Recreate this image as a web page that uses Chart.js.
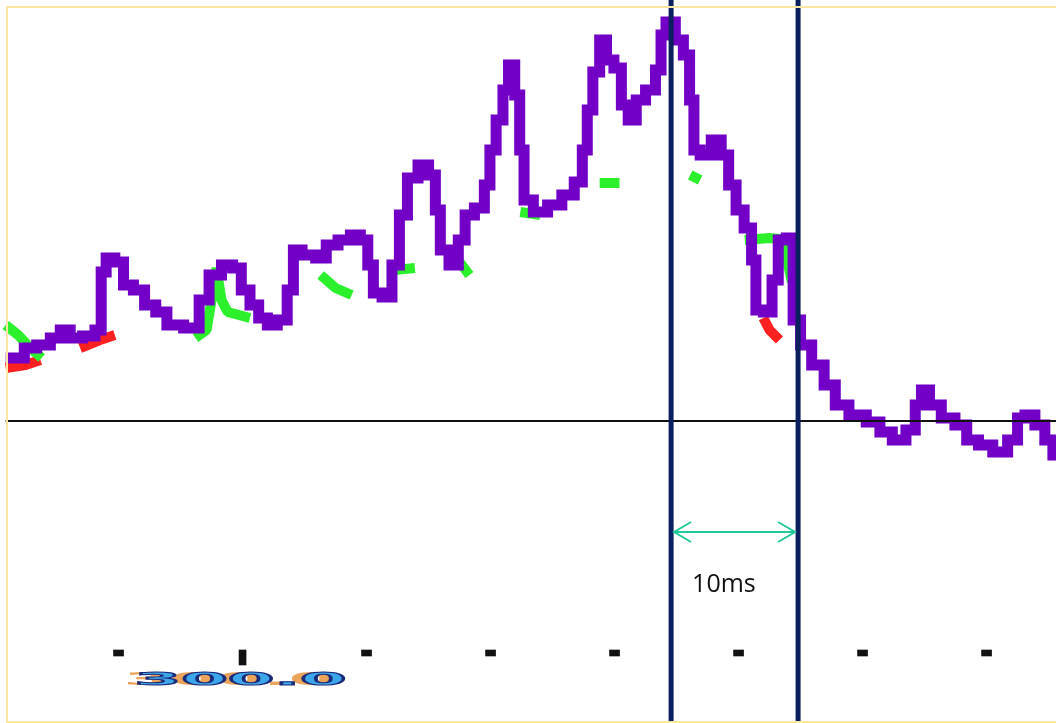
<!DOCTYPE html>
<html>
<head>
<meta charset="utf-8">
<title>Trace</title>
<script src="https://cdn.jsdelivr.net/npm/chart.js@4.4.1/dist/chart.umd.min.js"></script>
<style>
  html, body { margin: 0; padding: 0; background: #fff; overflow: hidden; }
  #wrap { position: absolute; left: 0; top: 0; width: 1056px; height: 723px; }
  #frame {
    position: absolute; left: 6px; top: 6px; width: 1060px; height: 713px;
    border: 2px solid #fce6a4; border-right: none; pointer-events: none;
  }
</style>
</head>
<body>
<div id="wrap"><canvas id="traceChart"></canvas></div>
<div id="frame"></div>
<script>
// main trace (purple): time in ms, amplitude
const traceTime = [280.9, 282.1, 282.7, 284.1, 284.9, 285.7, 286.5, 287.7, 288.5, 288.7, 289.3, 290.1, 290.7, 291.7, 292.5, 293.5, 294.3, 296.2, 296.8, 297.8,
    298.8, 299.6, 300.2, 301.0, 301.6, 302.4, 303.2, 304.0, 304.2, 305.4, 306.4, 307.1, 308.3, 309.1, 309.9, 310.3, 310.8, 311.7, 312.4, 312.9,
    313.7, 314.6, 315.4, 315.7, 316.2, 317.1, 317.7, 318.2, 319.2, 319.8, 320.1, 320.8, 321.2, 321.7, 322.2, 322.5, 322.9, 324.0, 325.2, 326.3,
    327.2, 327.6, 328.0, 328.5, 329.1, 329.6, 330.3, 330.8, 331.4, 332.1, 332.9, 333.7, 333.8, 334.5, 335.3, 335.8, 336.3, 336.5, 337.3, 338.3,
    338.9, 339.5, 340.1, 340.8, 341.3, 341.5, 342.5, 342.9, 343.5, 344.2, 344.6, 345.4, 346.4, 347.4, 348.2, 349.6, 351.0, 351.8, 353.0, 354.0,
    354.5, 355.0, 355.8, 356.9, 358.0, 358.8, 359.9, 361.1, 362.3, 362.7, 363.5, 364.3, 365.1, 365.6];
const traceValue = [6.3, 6.3, 7.3, 7.6, 8.3, 9.1, 8.3, 8.5, 9.1, 14.9, 16.3, 15.9, 13.6, 13.1, 11.6, 10.9, 9.6, 9.3, 12.1, 14.6,
    15.6, 15.3, 13.1, 11.6, 10.3, 9.6, 10.1, 13.1, 17.1, 16.6, 16.3, 17.6, 18.1, 18.6, 18.1, 15.6, 12.8, 12.4, 15.6, 20.6,
    24.3, 25.6, 24.6, 21.1, 17.1, 15.6, 18.1, 20.6, 21.3, 23.6, 27.1, 30.1, 33.1, 35.6, 32.6, 27.1, 22.1, 20.9, 21.6, 22.6,
    23.9, 27.1, 31.1, 34.9, 38.1, 36.1, 35.3, 31.6, 30.1, 32.1, 33.1, 35.1, 38.6, 39.9, 38.1, 36.6, 32.1, 27.1, 26.6, 28.1,
    26.6, 23.6, 21.1, 19.3, 16.1, 11.1, 10.9, 14.1, 18.1, 18.3, 10.1, 7.6, 5.6, 3.6, 1.6, 0.6, -0.1, -1.1, -1.9, -0.9,
    1.6, 3.1, 1.6, 0.3, -0.4, -1.9, -2.4, -3.1, -1.9, 0.3, 0.6, -0.4, -1.9, -3.4];

// second trace (green), only the visible pieces; null = hidden
const greenTime = [280.9, 281.9, 282.9, 283.8, null, 296.2, 297.1, 297.5, 297.9, 298.3, 298.8, 300.6, null, 306.3, 307.5, 308.8, null,
    312.3, 313.9, null, 317.5, 318.3, null, 322.4, 324.0, null, 328.8, 330.4, null, 336.1, 336.9, null, 340.5, 342.5, 343.9, 344.0, 344.3];
const greenValue = [9.6, 8.6, 7.3, 6.3, null, 8.3, 9.1, 12.1, 15.3, 12.1, 10.9, 10.3, null, 14.6, 13.3, 12.6, null,
    15.1, 15.3, null, 15.9, 14.6, null, 20.9, 20.6, null, 23.8, 23.8, null, 24.6, 24.1, null, 18.1, 18.3, 18.1, 15.6, 13.9];

// third trace (red), visible pieces
const redTime = [280.9, 282.5, 283.7, null, 286.9, 288.5, 289.7, null, 342.0, 342.5, 343.3];
const redValue = [5.3, 5.6, 6.1, null, 7.3, 8.1, 8.6, null, 10.3, 9.1, 8.1];

// time axis
const tickTimes = [290, 310, 320, 330, 340, 350, 360];
const majorTickTime = 300;
const majorTickLabel = "300.0";
const timeRange = [280.44, 365.6];
const valueRange = [-30.2, 42.1];

// cursors and span note
const cursorTimes = [334.56, 344.8];
const spanLabel = "10ms";

function toPoints(xs, ys) {
    return xs.map((t, i) => (t === null ? { x: null, y: null } : { x: t, y: ys[i] }));
}

const notesPlugin = {
    id: "spanNotes",
    afterDatasetsDraw(chart) {
        const { ctx, scales: { x, y } } = chart;
        const left = x.getPixelForValue(cursorTimes[0]) + 3;
        const right = x.getPixelForValue(cursorTimes[1]) - 3;
        const ay = y.getPixelForValue(-11.1);

        ctx.save();
        ctx.strokeStyle = "#22c99a";
        ctx.lineWidth = 2;
        ctx.beginPath();
        ctx.moveTo(left, ay);
        ctx.lineTo(right, ay);
        ctx.moveTo(left + 17, ay - 10);
        ctx.lineTo(left, ay);
        ctx.lineTo(left + 17, ay + 10);
        ctx.moveTo(right - 17, ay - 10);
        ctx.lineTo(right, ay);
        ctx.lineTo(right - 17, ay + 10);
        ctx.stroke();

        ctx.fillStyle = "#111";
        ctx.font = '25px "Open Sans"';
        ctx.textBaseline = "alphabetic";
        ctx.fillText(spanLabel, left + 18, y.getPixelForValue(-17.1));

        // stretched axis label under the major tick
        ctx.font = 'bold 18px "DejaVu Sans"';
        const w = ctx.measureText(majorTickLabel).width;
        ctx.translate(x.getPixelForValue(majorTickTime) - 2, y.getPixelForValue(-26.4));
        ctx.scale(212 / w, 1);
        ctx.fillStyle = "#e9a35a";
        ctx.fillText(majorTickLabel, -w / 2 - 3, 0);
        ctx.fillStyle = "#3ba6ea";
        ctx.fillText(majorTickLabel, -w / 2, 0);
        ctx.strokeStyle = "#1c2a7a";
        ctx.lineWidth = 1;
        ctx.strokeText(majorTickLabel, -w / 2, 0);
        ctx.restore();
    }
};

function renderTraceChart() {
    const ctx = document.getElementById("traceChart").getContext("2d");
    const cursorSets = cursorTimes.map(t => ({
        type: "line",
        data: [{ x: t, y: valueRange[1] }, { x: t, y: valueRange[0] }],
        borderColor: "#0b1f5e",
        borderWidth: 5,
        pointRadius: 0,
        order: 0
    }));
    // the side traces are soft fragments, the main one is blocky
    const sideStyle = {
        borderJoinStyle: "bevel",
        borderCapStyle: "butt",
        pointRadius: 0,
        spanGaps: false
    };

    new Chart(ctx, {
        type: "line",
        data: {
            datasets: [
                ...cursorSets,
                {
                    type: "bar",
                    data: tickTimes.map(t => ({ x: t, y: [-22.9, -23.5] })),
                    backgroundColor: "#111",
                    barThickness: 10,
                    grouped: false,
                    order: 0
                },
                {
                    type: "bar",
                    data: [{ x: majorTickTime, y: [-22.9, -24.4] }],
                    backgroundColor: "#111",
                    barThickness: 7,
                    grouped: false,
                    order: 0
                },
                {
                    data: [{ x: timeRange[0] + 0.45, y: 0 }, { x: timeRange[1], y: 0 }],
                    borderColor: "#111",
                    borderWidth: 2,
                    pointRadius: 0,
                    order: 1
                },
                {
                    data: toPoints(traceTime, traceValue),
                    borderColor: "#7200c6",
                    borderWidth: 11,
                    borderJoinStyle: "miter",
                    borderCapStyle: "butt",
                    stepped: "middle",
                    pointRadius: 0,
                    order: 2
                },
                {
                    ...sideStyle,
                    data: toPoints(greenTime, greenValue),
                    borderColor: "#2cf02c",
                    borderWidth: 10,
                    order: 3
                },
                {
                    ...sideStyle,
                    data: toPoints(redTime, redValue),
                    borderColor: "#ff2020",
                    borderWidth: 10,
                    order: 4
                }
            ]
        },
        options: {
            responsive: true,
            maintainAspectRatio: false,
            animation: false,
            layout: { padding: 0 },
            plugins: { legend: { display: false }, tooltip: { enabled: false } },
            scales: {
                x: { type: "linear", min: timeRange[0], max: timeRange[1], offset: false, display: false },
                y: { type: "linear", min: valueRange[0], max: valueRange[1], display: false }
            }
        },
        plugins: [notesPlugin]
    });
}

document.addEventListener("DOMContentLoaded", renderTraceChart);
</script>
</body>
</html>
